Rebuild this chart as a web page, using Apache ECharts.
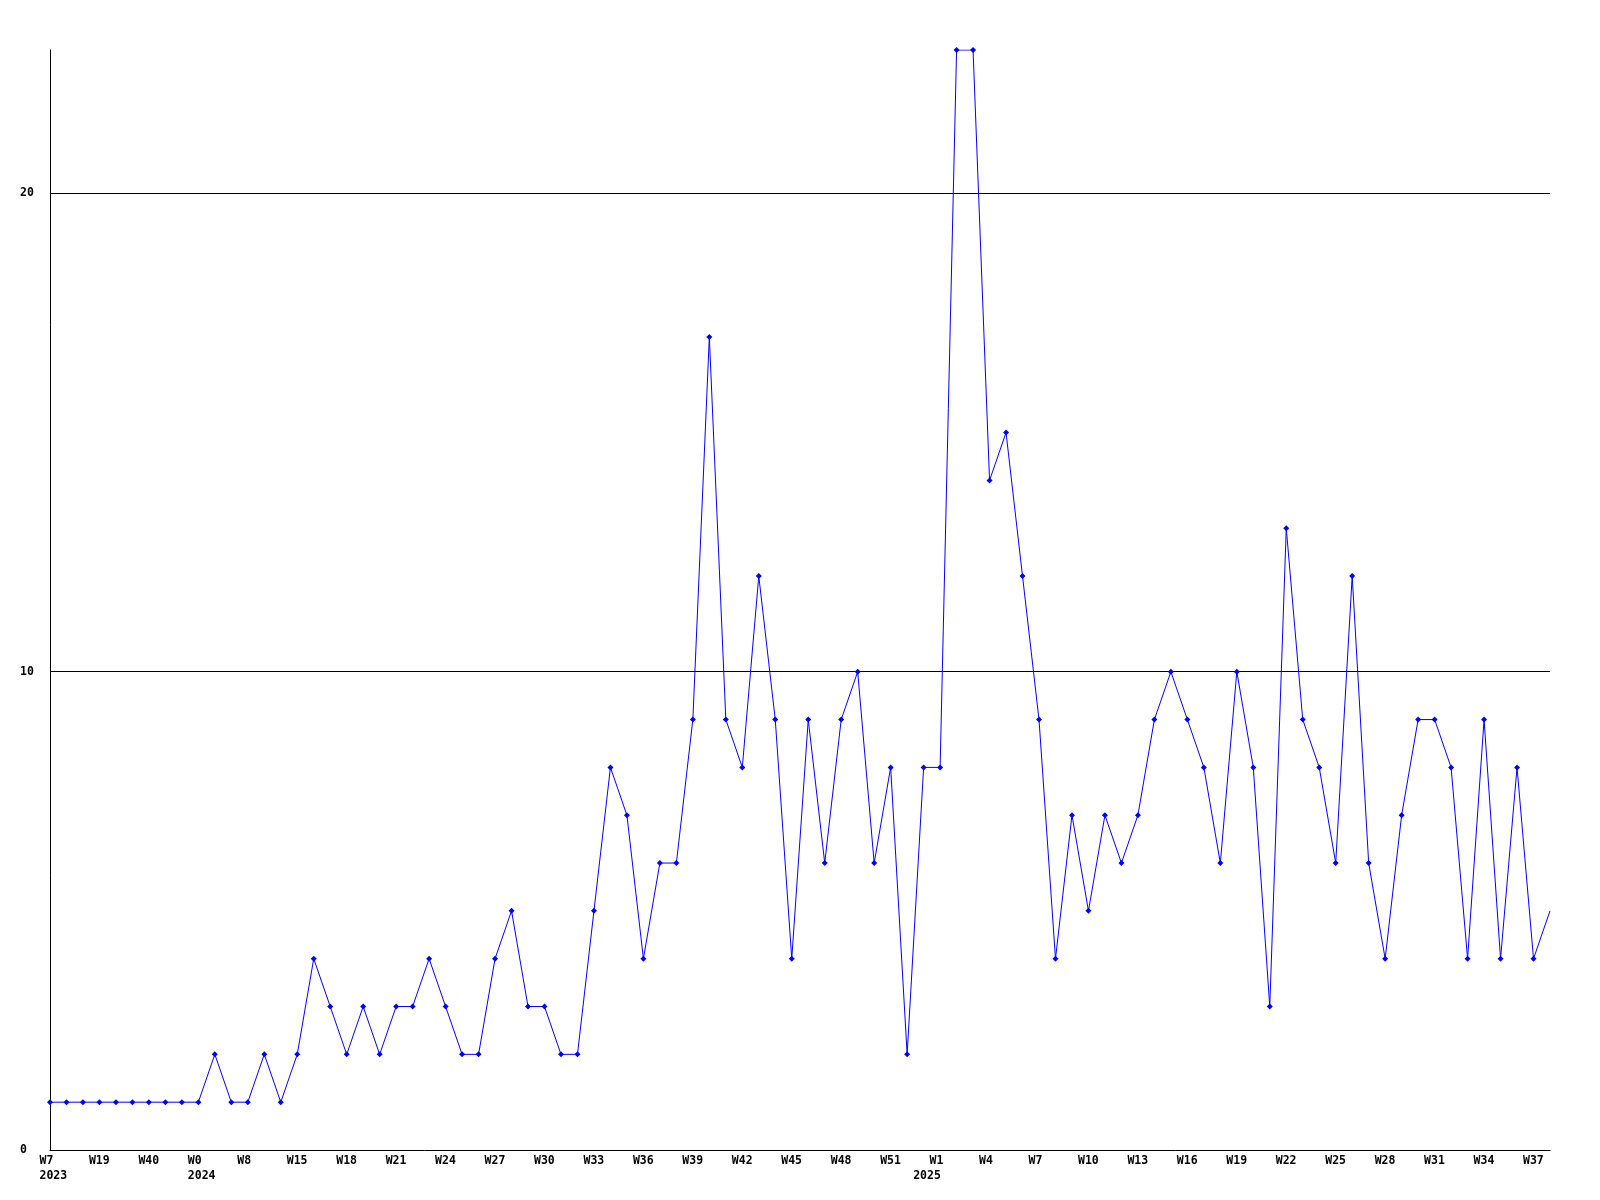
<!DOCTYPE html>
<html>
<head>
<meta charset="utf-8">
<title>weekly count</title>
<script src="https://cdn.jsdelivr.net/npm/echarts@6/dist/echarts.min.js"></script>
<style>
  html, body { margin: 0; padding: 0; background: #fff; }
  #chart { width: 1600px; height: 1200px; }
</style>
</head>
<body>
<div id="chart"></div>
<script>
// categories: year + week of each point
const weeks = [
  '2023 W7', '2023 W11', '2023 W15', '2023 W19', '2023 W26', '2023 W33', '2023 W40', '2023 W44', '2023 W48',
  '2024 W0', '2024 W2', '2024 W5', '2024 W8', '2024 W10', '2024 W13',
  '2024 W15', '2024 W16', '2024 W17', '2024 W18', '2024 W19', '2024 W20', '2024 W21', '2024 W22', '2024 W23',
  '2024 W24', '2024 W25', '2024 W26', '2024 W27', '2024 W28', '2024 W29', '2024 W30', '2024 W31', '2024 W32',
  '2024 W33', '2024 W34', '2024 W35', '2024 W36', '2024 W37', '2024 W38', '2024 W39', '2024 W40', '2024 W41',
  '2024 W42', '2024 W43', '2024 W44', '2024 W45', '2024 W46', '2024 W47', '2024 W48', '2024 W49', '2024 W50',
  '2024 W51', '2024 W52',
  '2025 W0', '2025 W1', '2025 W2', '2025 W3', '2025 W4', '2025 W5', '2025 W6', '2025 W7', '2025 W8',
  '2025 W9', '2025 W10', '2025 W11', '2025 W12', '2025 W13', '2025 W14', '2025 W15', '2025 W16', '2025 W17',
  '2025 W18', '2025 W19', '2025 W20', '2025 W21', '2025 W22', '2025 W23', '2025 W24', '2025 W25', '2025 W26',
  '2025 W27', '2025 W28', '2025 W29', '2025 W30', '2025 W31', '2025 W32', '2025 W33', '2025 W34', '2025 W35',
  '2025 W36', '2025 W37', '2025 W38'
]

// weekly values
const counts = [
  1, 1, 1, 1, 1, 1, 1, 1, 1, 1,
  2, 1, 1, 2, 1, 2, 4, 3, 2, 3,
  2, 3, 3, 4, 3, 2, 2, 4, 5, 3,
  3, 2, 2, 5, 8, 7, 4, 6, 6, 9,
  17, 9, 8, 12, 9, 4, 9, 6, 9, 10,
  6, 8, 2, 8, 8, 23, 23, 14, 15, 12,
  9, 4, 7, 5, 7, 6, 7, 9, 10, 9,
  8, 6, 10, 8, 3, 13, 9, 8, 6, 12,
  6, 4, 7, 9, 9, 8, 4, 9, 4, 8,
  4, 5
]

// y axis
const yMax = 23
const yStep = 10

const font = 'DejaVu Sans Mono'

// first point of each year gets the year printed under it
function isYearStart (i) {
  return i === 0 || weeks[i].split(' ')[0] !== weeks[i - 1].split(' ')[0]
}

let myChart = echarts.init(document.getElementById('chart'))
let option = {
  animation: false,
  backgroundColor: '#fff',
  grid: { left: 50, right: 50, top: 50, bottom: 50 },
  xAxis: {
    type: 'category',
    data: weeks,
    boundaryGap: false,
    axisLine: { show: true, lineStyle: { color: '#000', width: 1 } },
    axisTick: { show: false },
    splitLine: { show: false },
    axisLabel: {
      interval: (i) => i % 3 === 0 || isYearStart(i),
      margin: 4,
      formatter: (value, i) => {
        let [year, week] = value.split(' ')
        let top = i % 3 === 0 ? week : ' '
        return isYearStart(i) ? '{t|' + top + '}\n{t|' + year + '}' : '{t|' + top + '}'
      },
      rich: {
        t: {
          width: 21,
          align: 'left',
          lineHeight: 15,
          fontFamily: font,
          fontSize: 11.5,
          fontWeight: 'bold',
          color: '#000'
        }
      }
    }
  },
  yAxis: {
    type: 'value',
    min: 0,
    max: yMax,
    interval: yStep,
    axisLine: { show: true, lineStyle: { color: '#000', width: 1 } },
    axisTick: { show: false },
    splitLine: { show: true, showMinLine: false, showMaxLine: false, lineStyle: { color: '#000', width: 1 } },
    axisLabel: {
      showMaxLabel: false,
      align: 'left',
      margin: 30,
      fontFamily: font,
      fontSize: 11.5,
      fontWeight: 'bold',
      color: '#000',
      formatter: (v) => (v % yStep === 0 ? String(v) : '')
    }
  },
  series: [
    {
      type: 'line',
      data: counts.map((v, i) => (i === counts.length - 1 ? { value: v, symbol: 'none' } : v)),
      showAllSymbol: true,
      symbol: 'diamond',
      symbolSize: 6,
      lineStyle: { color: '#0000ff', width: 1 },
      itemStyle: { color: '#0000ff' },
      emphasis: { disabled: true }
    }
  ]
}
myChart.setOption(option)
</script>
</body>
</html>
